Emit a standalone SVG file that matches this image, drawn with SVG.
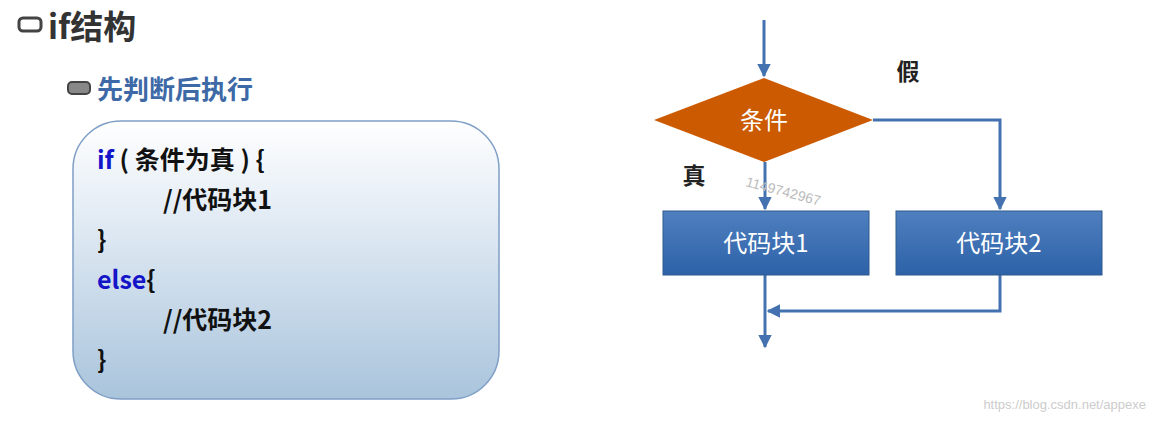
<svg xmlns="http://www.w3.org/2000/svg" width="1157" height="422" viewBox="0 0 1157 422">
<style>
.t{font-family:"Noto Sans CJK SC","Liberation Sans",sans-serif;font-weight:bold}
.code{font-size:25px;fill:#111}
.kw{fill:#1414c8}
.ln{fill:none;stroke:#4472b0;stroke-width:3}
.box{fill:url(#bg);stroke:#2e5a8e;stroke-width:1}
.bt{font-family:"Noto Sans CJK SC","Liberation Sans",sans-serif;font-size:24px;fill:#fff;text-anchor:middle}
</style>
<defs>
<linearGradient id="cg" x1="0" y1="0" x2="0" y2="1"><stop offset="0" stop-color="#ffffff"/><stop offset="0.35" stop-color="#e2ebf4"/><stop offset="1" stop-color="#a9c4dc"/></linearGradient>
<linearGradient id="bg" x1="0" y1="0" x2="0" y2="1"><stop offset="0" stop-color="#4f7fbf"/><stop offset="1" stop-color="#2d62a8"/></linearGradient>
<marker id="a" viewBox="0 0 10 10" refX="9" refY="5" markerWidth="4.5" markerHeight="4.5" orient="auto"><path d="M0,0L10,5L0,10z" fill="#4472b0"/></marker>
</defs>
<rect width="1157" height="422" fill="#fff"/>
<g id="title">
<rect x="19" y="18" width="22" height="13" rx="4" fill="#fff" stroke="#444" stroke-width="3"/>
<text class="t" x="48" y="39" font-size="33" fill="#333">if结构</text>
</g>
<g id="subtitle">
<rect x="68" y="82" width="22" height="12" rx="4" fill="#888" stroke="#444" stroke-width="2"/>
<text class="t" x="97" y="99" font-size="26" fill="#3d6aa6">先判断后执行</text>
</g>
<g id="codebox">
<rect x="73" y="121" width="426" height="278" rx="48" fill="url(#cg)" stroke="#7f9fc6" stroke-width="1.5"/>
<text class="t code" x="97" y="169" xml:space="preserve"><tspan class="kw">if</tspan> ( 条件为真 ) {</text>
<text class="t code" x="163" y="209">//代码块1</text>
<text class="t code" x="97" y="249">}</text>
<text class="t code" x="97" y="289"><tspan class="kw">else</tspan>{</text>
<text class="t code" x="163" y="329">//代码块2</text>
<text class="t code" x="97" y="369">}</text>
</g>
<g id="connectors">
<path class="ln" d="M764,20V76" marker-end="url(#a)"/>
<path class="ln" d="M873,120H1000V209" marker-end="url(#a)"/>
<path class="ln" d="M765,162V209" marker-end="url(#a)"/>
<path class="ln" d="M1000,275V311H768" marker-end="url(#a)"/>
<path class="ln" d="M765,275V347" marker-end="url(#a)"/>
</g>
<g id="cond">
<polygon points="764,78 873,120 764,162 654,120" fill="#cc5a00"/>
<text class="bt" x="764" y="129">条件</text>
</g>
<g id="block1">
<rect class="box" x="663" y="211" width="206" height="64"/>
<text class="bt" x="766" y="252">代码块1</text>
</g>
<g id="block2">
<rect class="box" x="896" y="211" width="206" height="64"/>
<text class="bt" x="999" y="252">代码块2</text>
</g>
<text class="t" x="908" y="80" font-size="23" fill="#222" text-anchor="middle">假</text>
<text class="t" x="694" y="184" font-size="23" fill="#222" text-anchor="middle">真</text>
<text x="745" y="186" font-family="Liberation Sans,sans-serif" font-size="14" fill="#bbb" transform="rotate(15 745 186)">1149742967</text>
<text x="1146" y="409" font-family="Liberation Sans,sans-serif" font-size="13" fill="#ccc" text-anchor="end">https://blog.csdn.net/appexe</text>
</svg>
